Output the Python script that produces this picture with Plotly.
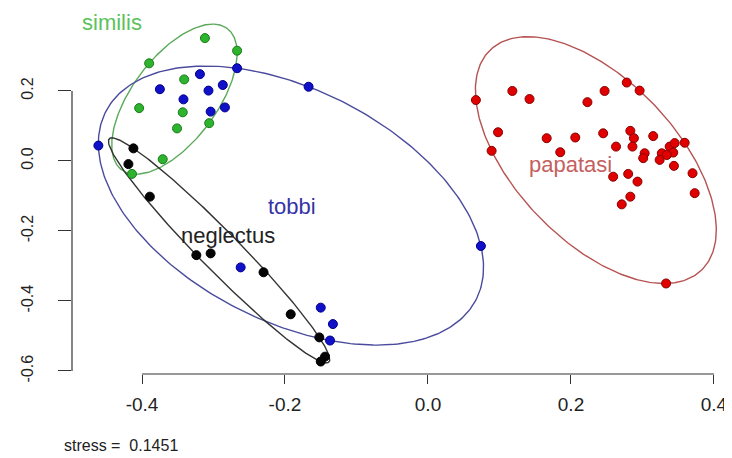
import numpy as np
import plotly.graph_objects as go

# ---------------- data ----------------
similis_x = [-0.312, -0.267, -0.390, -0.341, -0.404, -0.343, -0.306, -0.351, -0.371, -0.414]
similis_y = [0.351, 0.315, 0.279, 0.233, 0.151, 0.139, 0.108, 0.093, 0.005, -0.037]

tobbi_x = [-0.267, -0.167, -0.319, -0.375, -0.307, -0.287, -0.342, -0.304, -0.284, -0.461,
           -0.262, -0.150, -0.133, -0.137, 0.074]
tobbi_y = [0.265, 0.212, 0.248, 0.205, 0.201, 0.217, 0.176, 0.141, 0.153, 0.044,
           -0.304, -0.419, -0.466, -0.513, -0.243]

neglectus_x = [-0.412, -0.419, -0.389, -0.324, -0.304, -0.230, -0.192, -0.152, -0.144, -0.150]
neglectus_y = [0.036, -0.009, -0.102, -0.269, -0.264, -0.318, -0.438, -0.504, -0.559, -0.573]

papatasi_x = [0.067, 0.118, 0.142, 0.223, 0.247, 0.278, 0.296, 0.098, 0.089, 0.166,
              0.206, 0.185, 0.245, 0.283, 0.288, 0.263, 0.286, 0.315, 0.303, 0.301,
              0.327, 0.338, 0.345, 0.359, 0.343, 0.334, 0.324, 0.344, 0.370, 0.259,
              0.280, 0.293, 0.283, 0.271, 0.373, 0.333]
papatasi_y = [0.174, 0.200, 0.177, 0.168, 0.200, 0.224, 0.201, 0.082, 0.029, 0.065,
              0.067, 0.025, 0.079, 0.086, 0.065, 0.041, 0.041, 0.071, 0.022, 0.008,
              0.022, 0.041, 0.051, 0.052, 0.024, 0.017, 0.003, -0.014, -0.035, -0.045,
              -0.037, -0.059, -0.102, -0.124, -0.092, -0.350]

group_names = ["similis", "tobbi", "neglectus", "papatasi"]
label_x = [-0.442, -0.190, -0.280, 0.200]
label_y = [0.397, -0.129, -0.214, -0.011]

x_ticks = [-0.4, -0.2, 0.0, 0.2, 0.4]
x_tick_labels = ["-0.4", "-0.2", "0.0", "0.2", "0.4"]
y_ticks = [-0.6, -0.4, -0.2, 0.0, 0.2]
y_tick_labels = ["-0.6", "-0.4", "-0.2", "0.0", "0.2"]

stress_text = "stress =  0.1451"

# ---------------- styles ----------------
point_fill = ["#2db32d", "#1010c8", "#050505", "#e00000"]
point_edge = ["#1a7a1a", "#00008a", "#000000", "#8a0000"]
ellipse_col = ["#5aaa5a", "#4b4b9e", "#333333", "#b65252"]
label_col = ["#5cc25c", "#3434a6", "#222222", "#c46060"]


def ellipsoid_hull(px, py, tol=1e-8, max_iter=100000):
    """Minimum-volume enclosing ellipse (Khachiyan) -> centre, matrix A."""
    P = np.column_stack([px, py]).astype(float)
    n, d = P.shape
    Q = np.vstack([P.T, np.ones(n)])
    u = np.ones(n) / n
    for _ in range(max_iter):
        X = Q @ np.diag(u) @ Q.T
        M = np.einsum("ij,ji->i", Q.T @ np.linalg.inv(X), Q)
        j = int(np.argmax(M))
        step = (M[j] - d - 1.0) / ((d + 1.0) * (M[j] - 1.0))
        new_u = (1 - step) * u
        new_u[j] += step
        err = np.linalg.norm(new_u - u)
        u = new_u
        if err < tol:
            break
    c = P.T @ u
    A = np.linalg.inv(P.T @ np.diag(u) @ P - np.outer(c, c)) / d
    return c, A


def ellipse_path(c, A, n=300):
    w, V = np.linalg.eigh(A)
    t = np.linspace(0, 2 * np.pi, n)
    circ = np.vstack([np.cos(t), np.sin(t)])
    pts = V @ np.diag(1 / np.sqrt(w)) @ circ
    return c[0] + pts[0], c[1] + pts[1]


groups = [(similis_x, similis_y), (tobbi_x, tobbi_y),
          (neglectus_x, neglectus_y), (papatasi_x, papatasi_y)]

fig = go.Figure()

for i, (gx, gy) in enumerate(groups):
    c, A = ellipsoid_hull(gx, gy)
    ex, ey = ellipse_path(c, A)
    fig.add_trace(go.Scatter(x=ex, y=ey, mode="lines",
                             line=dict(color=ellipse_col[i], width=1.4),
                             hoverinfo="skip", showlegend=False))

for i, (gx, gy) in enumerate(groups):
    fig.add_trace(go.Scatter(x=gx, y=gy, mode="markers", name=group_names[i],
                             marker=dict(size=9, color=point_fill[i],
                                         line=dict(color=point_edge[i], width=1)),
                             showlegend=False))

for i, name in enumerate(group_names):
    fig.add_annotation(x=label_x[i], y=label_y[i], text=name, showarrow=False,
                       font=dict(family="Liberation Sans, Arial", size=22, color=label_col[i]))

fig.add_annotation(xref="paper", yref="paper", x=0.0742, y=-0.224, text=stress_text,
                   showarrow=False, xanchor="center", yanchor="bottom",
                   font=dict(family="Liberation Sans, Arial", size=16, color="#222222"))

# R-style axis lines spanning the tick range only
fig.add_shape(type="line", xref="x", yref="paper", x0=min(x_ticks), x1=max(x_ticks),
              y0=0, y1=0, line=dict(color="#333333", width=1.2))
fig.add_shape(type="line", xref="paper", yref="y", x0=0, x1=0,
              y0=min(y_ticks), y1=max(y_ticks), line=dict(color="#333333", width=1.2))

# the page body adds an 8px offset, so the figure is 8px smaller than the window
fig.update_layout(
    width=724, height=450,
    margin=dict(l=64, r=0, t=0, b=84, autoexpand=False),
    plot_bgcolor="white", paper_bgcolor="white",
    xaxis=dict(range=[-0.4979, 0.4252], tickvals=x_ticks, ticktext=x_tick_labels,
               ticks="outside", ticklen=9, tickwidth=1.2, tickcolor="#333333",
               showgrid=False, zeroline=False, showline=False, automargin=False,
               ticklabelstandoff=4,
               tickfont=dict(family="Liberation Sans, Arial", size=19, color="#222222")),
    yaxis=dict(range=[-0.6086, 0.437], tickvals=y_ticks, ticktext=y_tick_labels,
               ticks="outside", ticklen=13, tickwidth=1.2, tickcolor="#333333",
               showgrid=False, zeroline=False, showline=False, automargin=False,
               tickangle=-90, ticklabelstandoff=19,
               tickfont=dict(family="Liberation Sans, Arial", size=16, color="#222222")),
)

fig.write_html("out.html")
